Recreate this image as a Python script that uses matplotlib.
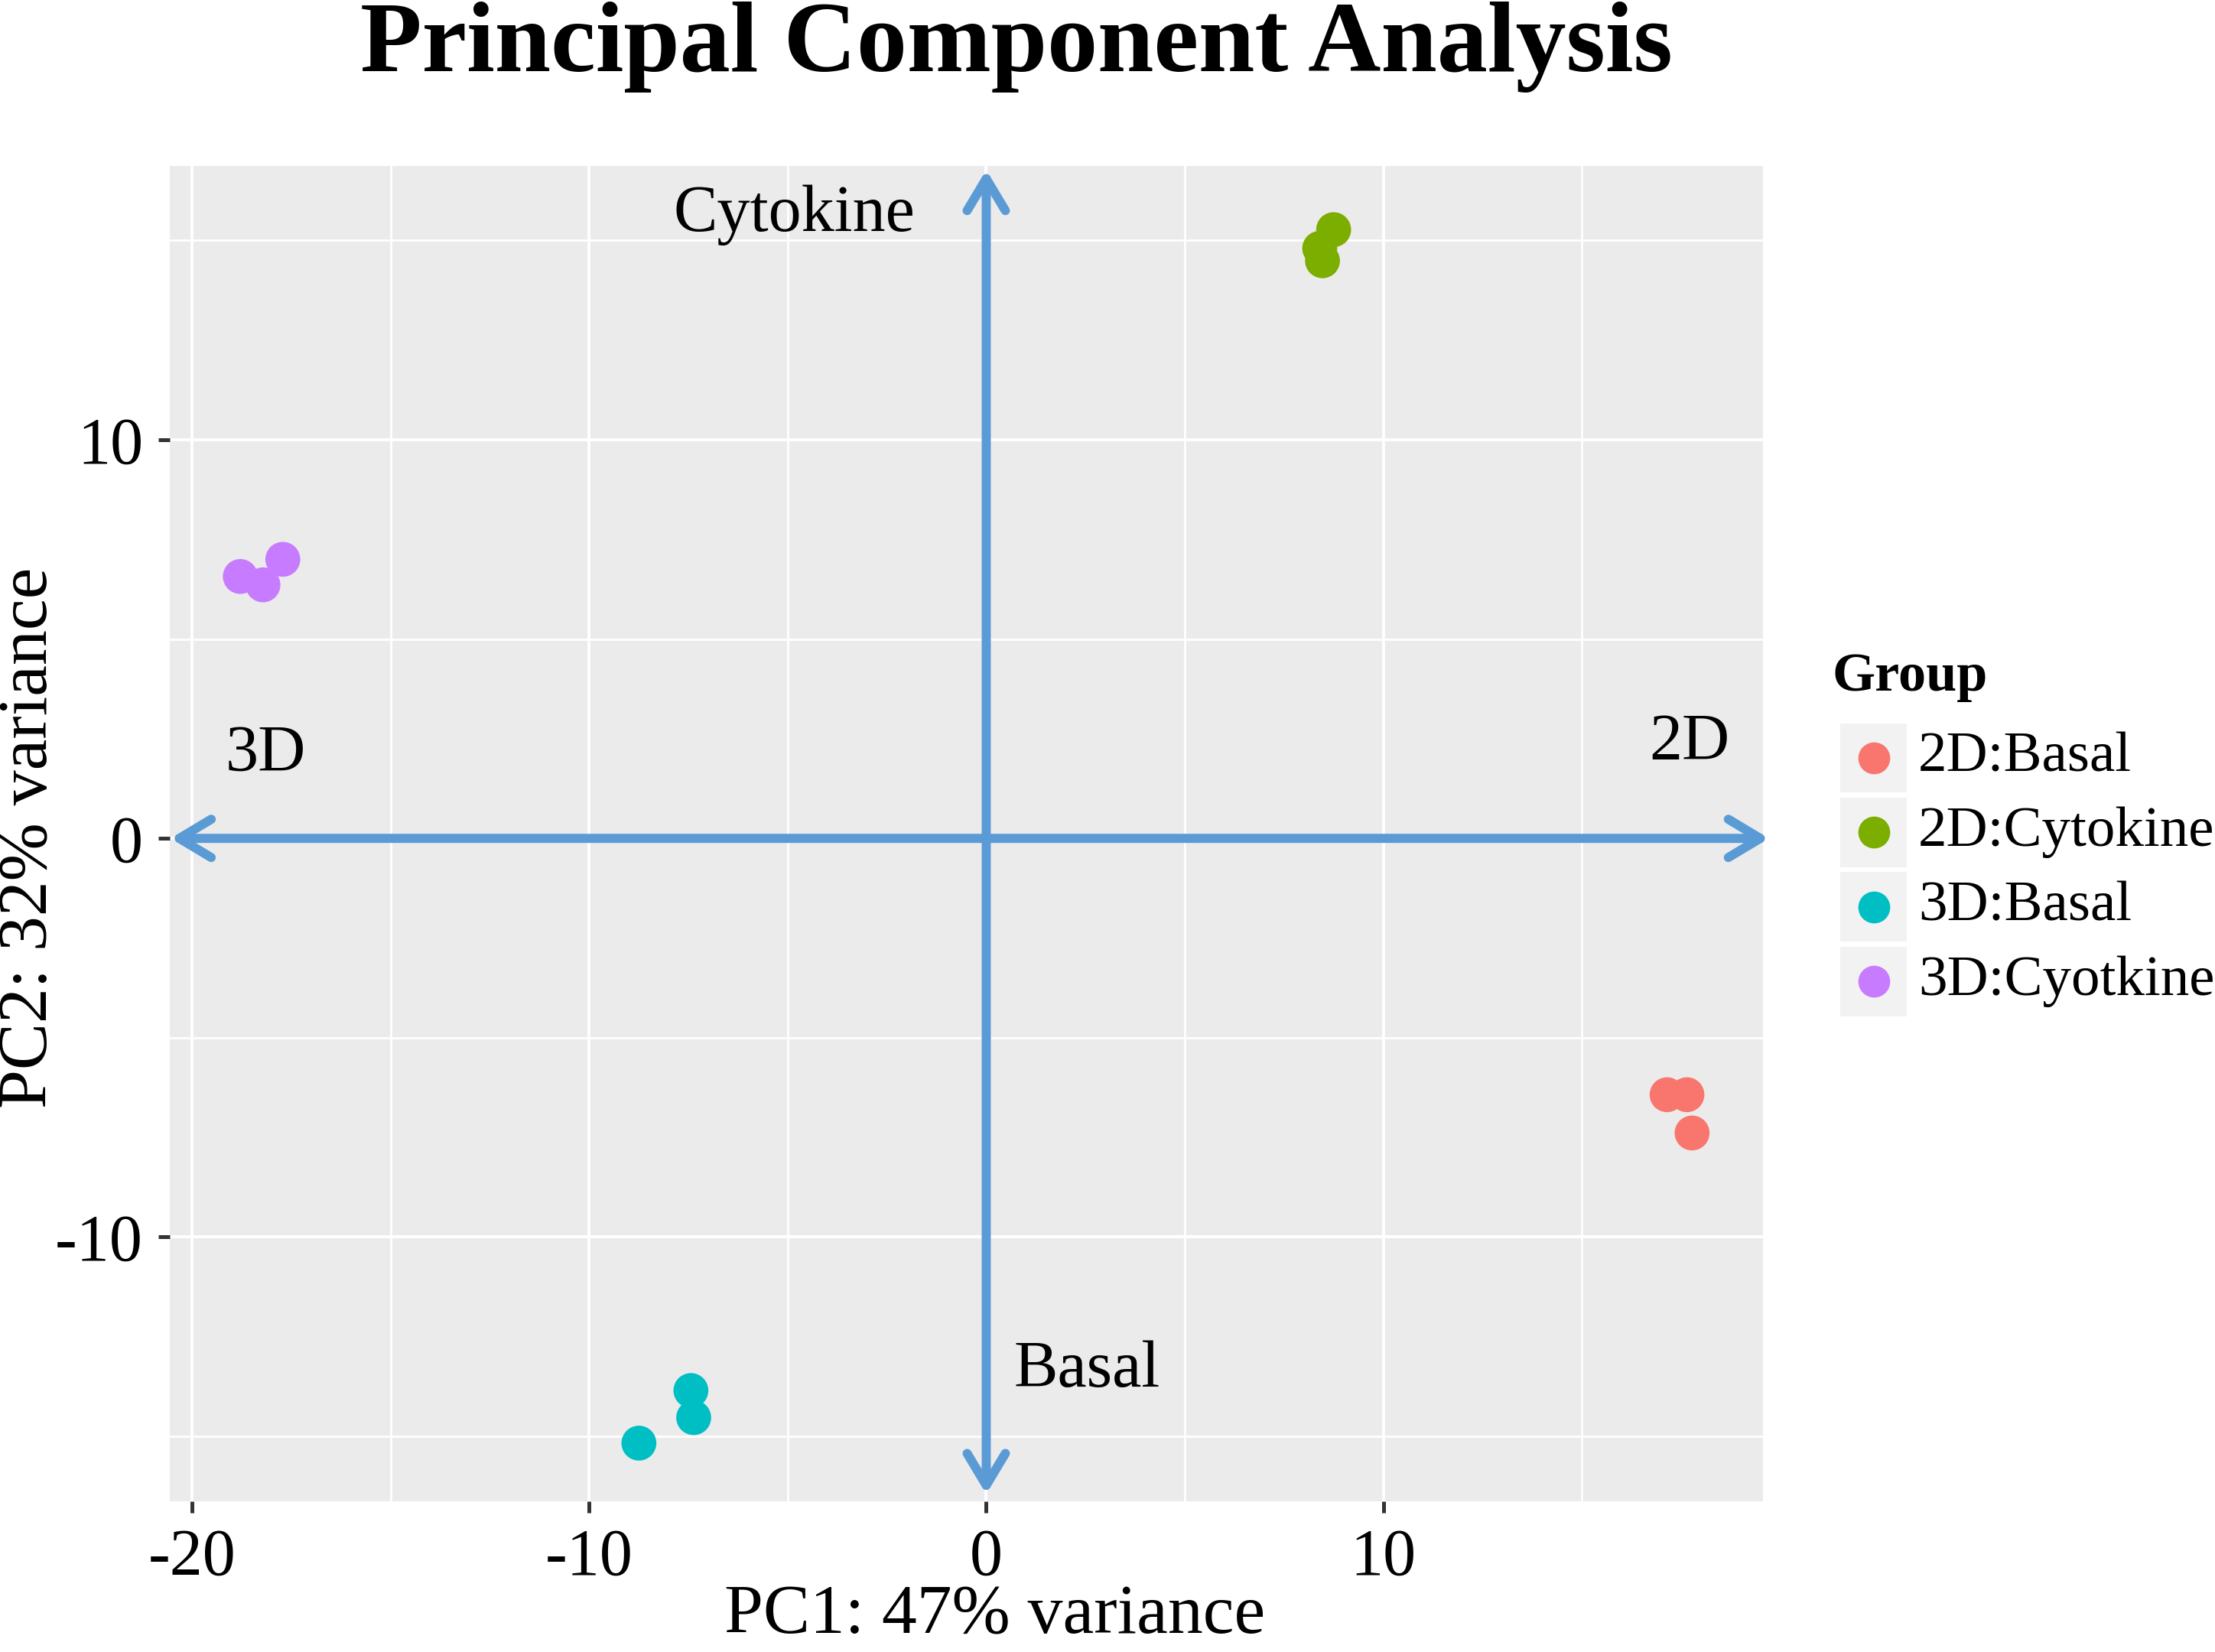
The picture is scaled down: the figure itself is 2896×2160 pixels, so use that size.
import matplotlib
matplotlib.use('Agg')
import matplotlib.pyplot as plt
import matplotlib.patches as mpatches
from matplotlib.lines import Line2D

plt.rcParams['font.family'] = ['Liberation Serif', 'DejaVu Serif']
plt.rcParams['axes.unicode_minus'] = False

# ── Data ──────────────────────────────────────────────────────
groups = ["2D:Basal", "2D:Cytokine", "3D:Basal", "3D:Cyotkine"]
colors = ["#F8766D", "#7CAE00", "#00BFC4", "#C77CFF"]

pc1_2d_basal = [17.15, 17.65, 17.78]
pc2_2d_basal = [-6.43, -6.43, -7.39]
pc1_2d_cyto = [8.75, 8.47, 8.40]
pc2_2d_cyto = [15.27, 14.49, 14.80]
pc1_3d_basal = [-7.44, -7.37, -8.75]
pc2_3d_basal = [-13.85, -14.53, -15.17]
pc1_3d_cyto = [-18.79, -18.22, -17.72]
pc2_3d_cyto = [6.57, 6.36, 7.00]

pc1 = [pc1_2d_basal, pc1_2d_cyto, pc1_3d_basal, pc1_3d_cyto]
pc2 = [pc2_2d_basal, pc2_2d_cyto, pc2_3d_basal, pc2_3d_cyto]

# quadrant annotations (text, x, y)
quad_labels = ["Cytokine", "3D", "2D", "Basal"]
quad_x = [-4.84, -18.15, 17.72, 2.53]
quad_y = [15.63, 2.10, 2.38, -13.36]

xticks = [-20, -10, 0, 10]
yticks = [-10, 0, 10]

ARROW = "#5B9BD5"

# ── Figure ────────────────────────────────────────────────────
fig = plt.figure(figsize=(14.48, 10.8), dpi=200)
ax = fig.add_axes([0.0766, 0.0912, 0.7194, 0.8084])
ax.set_facecolor("#EBEBEB")
ax.set_xlim(-20.57, 19.57)
ax.set_ylim(-16.63, 16.87)

ax.set_xticks(xticks)
ax.set_yticks(yticks)
ax.set_xticks([-15, -5, 5, 15], minor=True)
ax.set_yticks([-15, -5, 5, 15], minor=True)
ax.grid(which='major', color='white', linewidth=1.4)
ax.grid(which='minor', color='white', linewidth=1.0)
ax.set_axisbelow(True)
for sp in ax.spines.values():
    sp.set_visible(False)
ax.tick_params(which='major', length=5.5, width=1.8, color='#333333',
               labelsize=31, pad=7)
ax.tick_params(which='minor', length=0)

# double-headed axis arrows
arrow_style = dict(arrowstyle='<->,head_length=0.75,head_width=0.45',
                   lw=4.3, color=ARROW, mutation_scale=20,
                   shrinkA=0, shrinkB=0, capstyle='round', joinstyle='round')
ax.annotate('', xy=(19.72, 0), xytext=(-20.55, 0),
            arrowprops=arrow_style, annotation_clip=False)
ax.annotate('', xy=(0, 16.77), xytext=(0, -16.45),
            arrowprops=arrow_style, annotation_clip=False)

for xs, ys, c in zip(pc1, pc2, colors):
    ax.scatter(xs, ys, s=270, color=c, edgecolors='none', zorder=3)

for t, x, y in zip(quad_labels, quad_x, quad_y):
    ax.text(x, y, t, fontsize=31, ha='center', va='center', zorder=4)

fig.text(0.449, 0.0215, "PC1: 47% variance", fontsize=33,
         ha='center', va='center')
fig.text(0.0135, 0.493, "PC2: 32% variance", fontsize=33,
         ha='center', va='center', rotation=90)

fig.text(0.459, 0.957, "Principal Component Analysis", fontsize=47.5,
         fontweight='bold', ha='center', va='baseline')

# ── Legend (ggplot style, drawn by hand) ─────────────────────
fig.text(0.8272, 0.590, "Group", fontsize=26, fontweight='bold',
         ha='left', va='center')
key_x = 0.8459
key_y0 = 0.5412
key_step = 0.0451
for i, (g, c) in enumerate(zip(groups, colors)):
    yk = key_y0 - i * key_step
    fig.add_artist(mpatches.Rectangle((key_x - 0.0150, yk - 0.0210), 0.0300, 0.0420,
                                      transform=fig.transFigure,
                                      facecolor='#F2F2F2', edgecolor='none'))
    fig.add_artist(Line2D([key_x], [yk], marker='o', markersize=15,
                          color=c, markeredgewidth=0, linestyle='none',
                          transform=fig.transFigure))
    fig.text(0.866, yk, g, fontsize=27, ha='left', va='center')

plt.savefig("out.png", dpi=200)
plt.close()
print("Saved out.png")
